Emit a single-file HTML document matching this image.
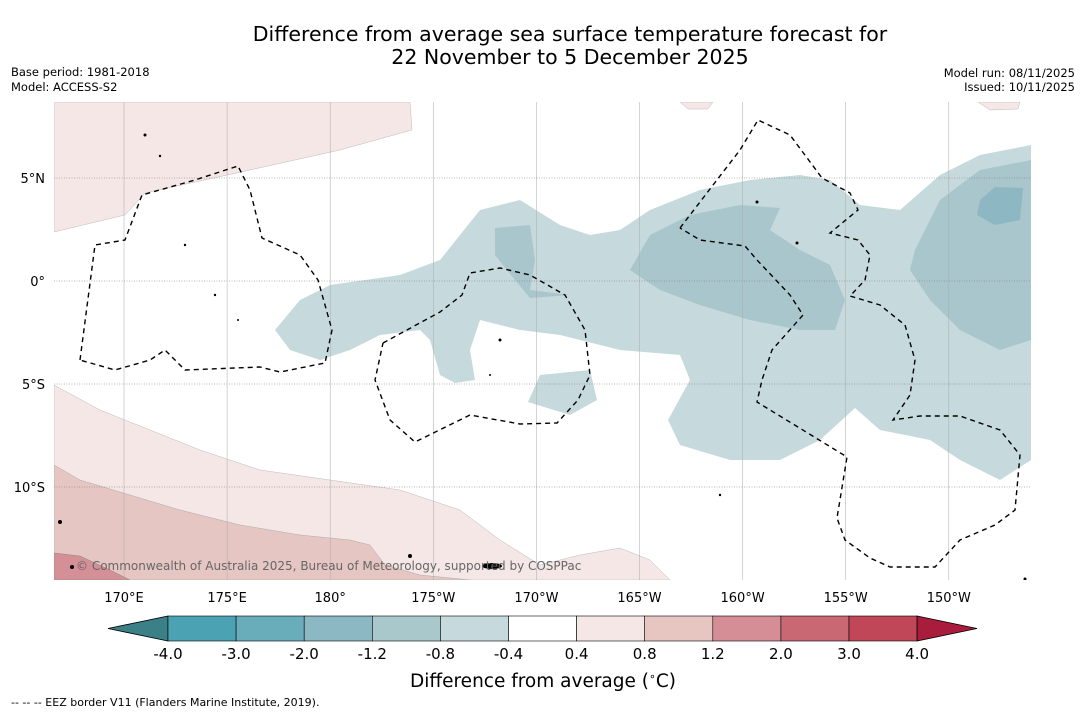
<!DOCTYPE html>
<html><head><meta charset="utf-8"><style>
body{margin:0;background:#fff;font-family:"Liberation Sans",sans-serif}
svg text{font-family:"DejaVu Sans","Liberation Sans",sans-serif}
</style></head><body>
<svg width="1085" height="713" xmlns="http://www.w3.org/2000/svg">
<text x="570" y="41" text-anchor="middle" font-size="20.5">Difference from average sea surface temperature forecast for</text>
<text x="570" y="64" text-anchor="middle" font-size="20.5">22 November to 5 December 2025</text>
<text x="11" y="76" font-size="11.5">Base period: 1981-2018</text>
<text x="11" y="91" font-size="11.5">Model: ACCESS-S2</text>
<text x="1075" y="77" font-size="11.5" text-anchor="end">Model run: 08/11/2025</text>
<text x="1075" y="91" font-size="11.5" text-anchor="end">Issued: 10/11/2025</text>
<defs><clipPath id="mc"><rect x="54" y="102" width="977" height="478"/></clipPath></defs>
<g clip-path="url(#mc)">
<rect x="54" y="102" width="977" height="478" fill="#fff"/>
<path fill="#f4e7e6" stroke="#bbb" stroke-width="0.5" d="M54,102 L410,102 L412,130 L340,150 L250,170 L145,193 L125,215 L54,232Z M680,102 L713,102 L708,109 L688,109Z M978,102 L1020,102 L1018,109 L990,110Z"/>
<path fill="#f4e7e6" stroke="#bbb" stroke-width="0.5" d="M54,385 L100,410 L150,430 L200,450 L260,470 L330,480 L400,490 L460,510 L500,540 L540,565 L580,555 L620,548 L650,560 L670,580 L54,580Z"/>
<path fill="#e6c6c2" stroke="#aaa" stroke-width="0.5" d="M54,465 L80,480 L130,495 L180,510 L240,525 L300,535 L350,540 L370,545 L385,565 L420,575 L470,580 L54,580Z"/>
<path fill="#d58f96" stroke="#888" stroke-width="0.5" d="M54,553 L80,556 L110,570 L130,580 L54,580Z"/>
<path fill="#c6d9dc" d="M275,330 L300,300 L330,285 L400,275 L440,260 L480,210 L520,200 L560,225 L590,235 L620,230 L650,210 L700,190 L750,180 L800,175 L830,180 L860,205 L900,210 L940,175 L980,155 L1031,145 L1031,460 L1000,480 L960,460 L930,440 L880,430 L855,408 L820,440 L780,460 L730,460 L680,445 L668,420 L690,380 L680,355 L620,350 L560,335 L520,330 L480,320 L470,350 L475,380 L455,383 L440,375 L430,340 L420,330 L380,335 L350,350 L320,360 L290,350Z M540,375 L590,370 L597,400 L570,415 L528,402Z"/>
<path fill="#a8c6cb" d="M630,270 L650,235 L690,215 L740,205 L780,208 L770,230 L800,250 L830,265 L845,300 L835,330 L800,330 L750,320 L700,305 L660,290Z M495,228 L530,225 L535,260 L530,290 L570,295 L530,298 L515,280 L495,255Z M915,250 L940,200 L980,170 L1031,160 L1031,340 L1000,350 L960,330 L930,300 L910,270Z"/>
<path fill="#8db8c3" d="M980,200 L995,187 L1023,188 L1020,220 L995,225 L977,215Z"/>
<g id="grid" stroke="#999" stroke-width="0.6"></g>
<g fill="none" stroke="#000" stroke-width="1.4" stroke-dasharray="5,4">
<path d="M80,360 L95,245 L125,240 L142,195 L195,180 L238,166 L250,190 L262,238 L300,255 L318,280 L332,330 L325,363 L280,372 L260,367 L185,370 L165,350 L150,360 L115,370 L80,360"/>
<path d="M383,343 L440,312 L462,295 L470,273 L500,268 L530,275 L565,295 L585,330 L590,375 L578,400 L557,423 L520,424 L470,415 L415,442 L390,420 L375,380 L383,343"/>
<path d="M680,228 L740,150 L758,120 L790,135 L822,178 L850,193 L858,210 L830,233 L858,240 L870,255 L865,280 L850,296 L880,305 L905,325 L915,360 L910,395 L893,420 L920,416 L960,416 L1000,430 L1020,455 L1015,510 L995,525 L960,540 L935,567 L890,567 L870,558 L845,540 L837,518 L847,457 L757,402 L762,380 L772,350 L803,315 L790,295 L757,260 L745,246 L700,240 L680,228"/>
</g>
<g fill="#000">
<circle cx="145" cy="135" r="1.5"/><circle cx="160" cy="156" r="1.2"/><circle cx="185" cy="245" r="1.2"/><circle cx="215" cy="295" r="1.2"/><circle cx="238" cy="320" r="1"/><circle cx="500" cy="340" r="1.5"/><circle cx="490" cy="375" r="1"/><circle cx="757" cy="202" r="1.5"/><circle cx="797" cy="243" r="1.5"/><circle cx="410" cy="556" r="2"/><ellipse cx="492" cy="566" rx="10" ry="3"/><circle cx="60" cy="522" r="2"/><circle cx="72" cy="567" r="2"/><circle cx="720" cy="495" r="1.2"/><circle cx="1025" cy="579" r="1.5"/>
</g>
<text x="76" y="570" font-size="12" fill="#666">© Commonwealth of Australia 2025, Bureau of Meteorology, supported by COSPPac</text>
</g>
<g id="axlabels" font-size="13"></g>
<g id="cbar"></g>
<text x="543" y="687" text-anchor="middle" font-size="18.5">Difference from average (<tspan font-size="11" dy="-7">∘</tspan><tspan dy="7">C)</tspan></text>
<text x="11" y="706" font-size="11">--  --  -- EEZ border V11 (Flanders Marine Institute, 2019).</text>
</svg>
<script>
const NS='http://www.w3.org/2000/svg';
const lonLabels=['170°E','175°E','180°','175°W','170°W','165°W','160°W','155°W','150°W'];
const lonVals=[170,175,180,185,190,195,200,205,210];
const latLabels=['5°N','0°','5°S','10°S'];
const latVals=[5,0,-5,-10];
const binEdges=['-4.0','-3.0','-2.0','-1.2','-0.8','-0.4','0.4','0.8','1.2','2.0','3.0','4.0'];
const binColors=['#4aa2b2','#69adbb','#8cb8c4','#a8c8cc','#c6d9dc','#ffffff','#f4e7e6','#e7c6c2','#d58e96','#c96872','#bf4757'];
const xLon=l=>124+(l-170)*20.62;
const yLat=l=>281-l*20.6;
const grid=document.getElementById('grid'),ax=document.getElementById('axlabels'),cb=document.getElementById('cbar');
function mk(tag,attrs,parent){const e=document.createElementNS(NS,tag);for(const k in attrs)e.setAttribute(k,attrs[k]);parent.appendChild(e);return e;}
lonVals.forEach((v,i)=>{const x=xLon(v);
 const l=mk('line',{x1:x,x2:x,y1:102,y2:580,stroke:'#aaa','stroke-width':0.5},grid);
 
 
 const t=mk('text',{x:x,y:602,'text-anchor':'middle'},ax);t.textContent=lonLabels[i];
 
 });
latVals.forEach((v,i)=>{const y=yLat(v);
 const l=mk('line',{x1:54,x2:1031,y1:y,y2:y,'stroke-dasharray':'1,1.5',stroke:'#777'},grid);
 
 
 const t=mk('text',{x:45,y:y+5,'text-anchor':'end'},ax);t.textContent=latLabels[i];
 
 });
const x0=168,w=68.1,yT=616,h=25;
const lt=mk('polygon',{points:`108,${yT+h/2} ${x0},${yT} ${x0},${yT+h}`,fill:'#3b7f87',stroke:'#000','stroke-width':0.8},cb);


binColors.forEach((c,i)=>{const r=mk('rect',{x:x0+i*w,y:yT,width:w,height:h,fill:c,stroke:'#000','stroke-width':0.6},cb);
 
 });
const xe=x0+binColors.length*w;
const rt=mk('polygon',{points:`${xe},${yT} 977,${yT+h/2} ${xe},${yT+h}`,fill:'#a91c3b',stroke:'#000','stroke-width':0.8},cb);


binEdges.forEach((s,i)=>{const t=mk('text',{x:x0+i*w,y:659,'text-anchor':'middle','font-size':15},cb);t.textContent=s;
 
 });
</script>
</body></html>
